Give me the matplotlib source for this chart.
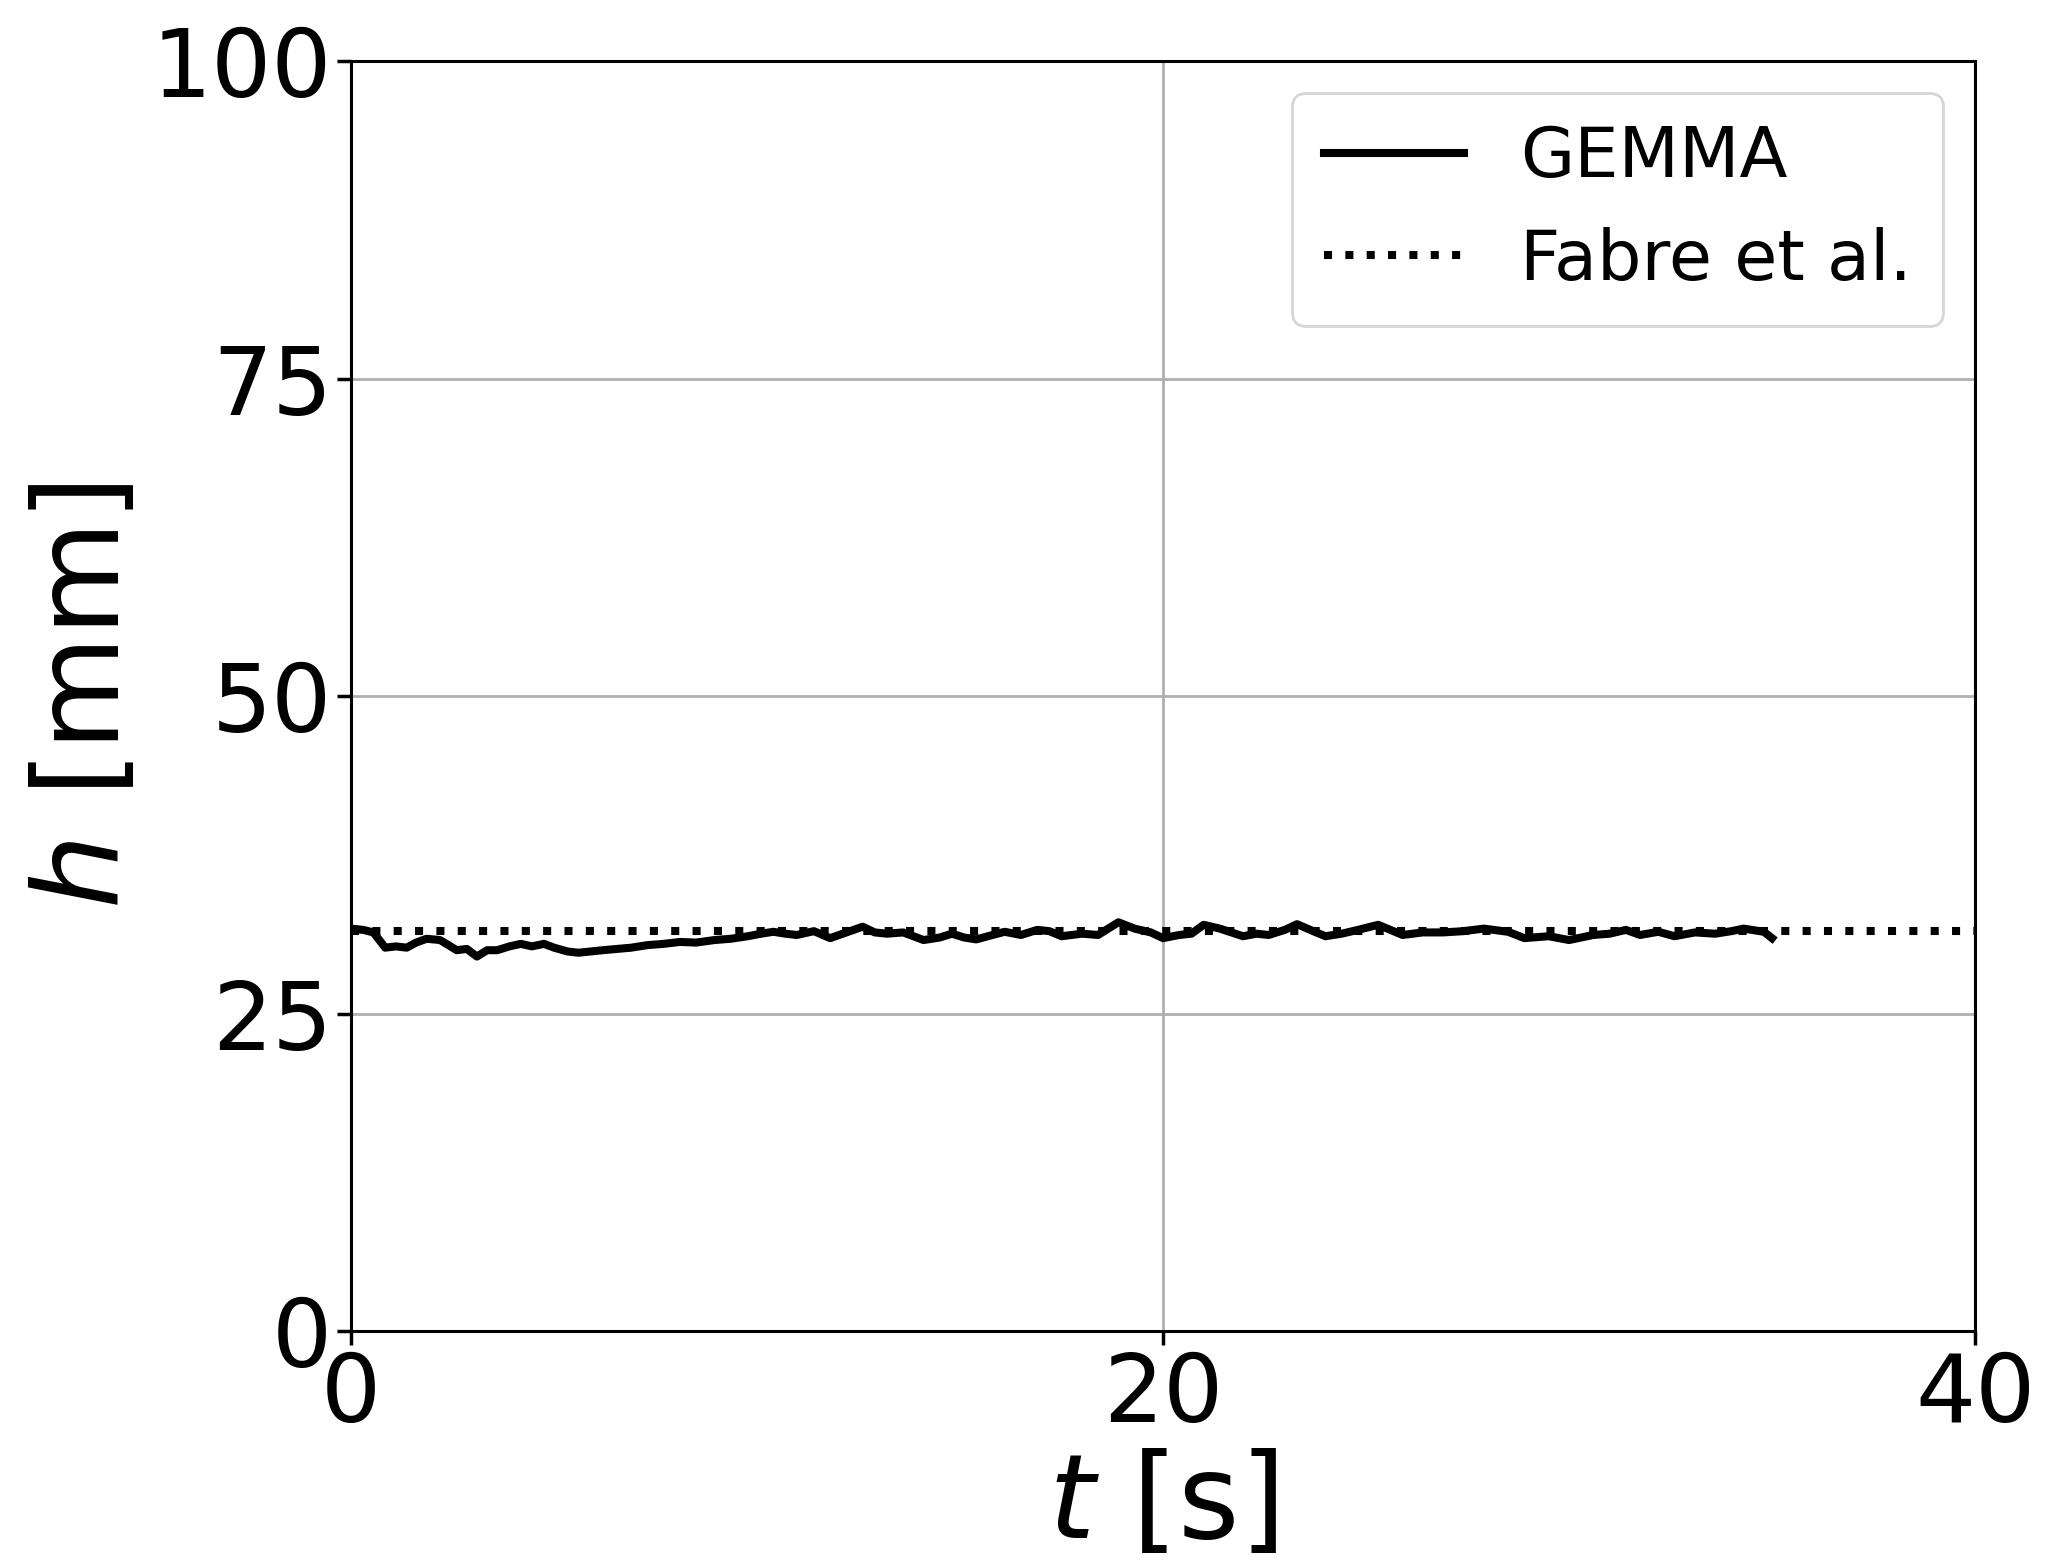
import matplotlib
matplotlib.use("Agg")
import matplotlib.pyplot as plt

# GEMMA film height over time
time_s = [0.0, 0.3, 0.55, 0.84, 1.1, 1.37, 1.6, 1.86, 2.19, 2.4,
          2.6, 2.85, 3.1, 3.35, 3.6, 3.9, 4.18, 4.45, 4.75, 5.0,
          5.33, 5.6, 5.9, 6.2, 6.55, 6.9, 7.3, 7.7, 8.1, 8.5,
          8.95, 9.35, 9.77, 10.1, 10.4, 10.7, 10.98, 11.4, 11.8, 12.2,
          12.6, 12.9, 13.2, 13.6, 14.1, 14.5, 14.8, 15.1, 15.4, 15.8,
          16.1, 16.5, 16.9, 17.2, 17.5, 18.0, 18.4, 18.9, 19.3, 19.7,
          20.0, 20.4, 20.7, 21.0, 21.4, 21.97, 22.3, 22.6, 23.0, 23.3,
          23.7, 24.0, 24.4, 24.8, 25.3, 25.6, 25.9, 26.4, 26.9, 27.4,
          27.9, 28.5, 28.9, 29.5, 30.0, 30.6, 31.0, 31.4, 31.75, 32.2,
          32.6, 33.1, 33.6, 34.0, 34.3, 34.8, 35.0]
gemma_h = [31.7, 31.6, 31.4, 30.2, 30.3, 30.2, 30.6, 30.9, 30.8, 30.4,
           30.0, 30.1, 29.5, 30.0, 30.0, 30.3, 30.5, 30.3, 30.5, 30.2,
           29.9, 29.8, 29.9, 30.0, 30.1, 30.2, 30.4, 30.5, 30.65, 30.6,
           30.8, 30.9, 31.1, 31.3, 31.45, 31.3, 31.2, 31.5, 30.95, 31.4,
           31.85, 31.4, 31.3, 31.4, 30.8, 31.0, 31.3, 31.0, 30.85, 31.2,
           31.45, 31.2, 31.6, 31.5, 31.1, 31.3, 31.2, 32.2, 31.7, 31.4,
           30.95, 31.2, 31.3, 32.0, 31.7, 31.1, 31.3, 31.2, 31.6, 32.05,
           31.5, 31.1, 31.3, 31.6, 32.0, 31.6, 31.2, 31.4, 31.4, 31.5,
           31.7, 31.45, 30.95, 31.1, 30.8, 31.2, 31.3, 31.6, 31.2, 31.45,
           31.1, 31.4, 31.3, 31.5, 31.7, 31.45, 30.95]
fabre_h = 31.5

x_ticks = [0, 20, 40]
y_ticks = [0, 25, 50, 75, 100]

fig = plt.figure(figsize=(20.46, 15.68), dpi=100)
ax = fig.add_axes([0.1716, 0.151, 0.7937, 0.810])

ax.plot(time_s, gemma_h, color="black", lw=5.8, label="GEMMA")
ax.axhline(fabre_h, color="black", lw=5.8, ls=":", label="Fabre et al.")

ax.set_xlim(0, 40)
ax.set_ylim(0, 100)
ax.set_xticks(x_ticks)
ax.set_yticks(y_ticks)
ax.tick_params(labelsize=68, width=2.5, length=10)
for s in ax.spines.values():
    s.set_linewidth(2.2)
ax.grid(True, color="#b0b0b0", lw=2)

ax.set_xlabel("$t$ [s]", fontsize=85, labelpad=4)
ax.set_ylabel("$h$ [mm]", fontsize=85, labelpad=6)

leg = ax.legend(fontsize=50.5, loc="upper right", handlelength=2.0,
                borderpad=0.45, labelspacing=0.51, handletextpad=0.8,
                borderaxespad=0.45)
leg.get_frame().set_linewidth(2)

fig.savefig("out.png", dpi=100)
